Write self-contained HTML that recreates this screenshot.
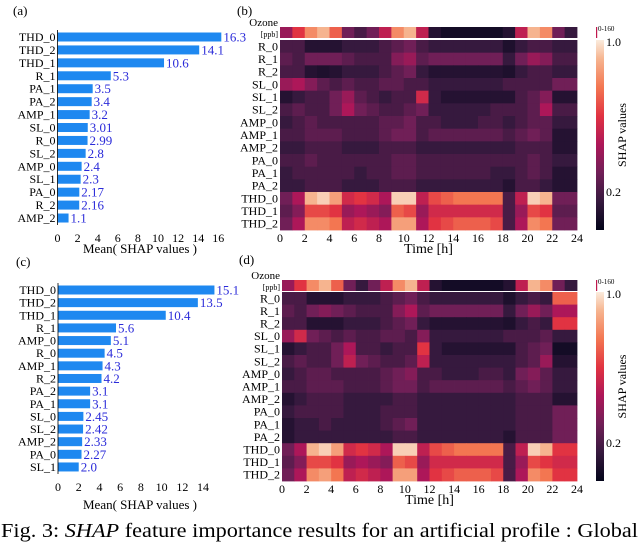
<!DOCTYPE html>
<html><head><meta charset="utf-8"><style>
body{margin:0;background:#fff;}
svg{display:block;font-family:"Liberation Serif",serif;}
</style></head><body>
<svg id="fig" width="640" height="542" viewBox="0 0 640 542" xmlns="http://www.w3.org/2000/svg">
<defs>
<linearGradient id="cbar" x1="0" y1="1" x2="0" y2="0">
<stop offset="0" stop-color="#03051a"/><stop offset="0.15" stop-color="#36193e"/><stop offset="0.3" stop-color="#701f57"/><stop offset="0.45" stop-color="#ad1759"/><stop offset="0.6" stop-color="#e13342"/><stop offset="0.75" stop-color="#f37651"/><stop offset="0.9" stop-color="#f6b48f"/><stop offset="1" stop-color="#faebdd"/>
</linearGradient>
</defs>
<text x="1" y="537" font-size="20" text-anchor="start" textLength="637" lengthAdjust="spacingAndGlyphs">Fig. 3: <tspan font-style="italic">SHAP</tspan> feature importance results for an artificial profile : Global</text>
</svg>
<script>
// ---- bar chart data ----
const barLabelsA = ["THD_0","THD_2","THD_1","R_1","PA_1","PA_2","AMP_1","SL_0","R_0","SL_2","AMP_0","SL_1","PA_0","R_2","AMP_2"];
const barValuesA = [16.3,14.1,10.6,5.3,3.5,3.4,3.2,3.01,2.99,2.8,2.4,2.3,2.17,2.16,1.1];
const barTextA = ["16.3","14.1","10.6","5.3","3.5","3.4","3.2","3.01","2.99","2.8","2.4","2.3","2.17","2.16","1.1"];
const ticksA = [0,2,4,6,8,10,12,14,16];
const barLabelsC = ["THD_0","THD_2","THD_1","R_1","AMP_0","R_0","AMP_1","R_2","PA_2","PA_1","SL_0","SL_2","AMP_2","PA_0","SL_1"];
const barValuesC = [15.1,13.5,10.4,5.6,5.1,4.5,4.3,4.2,3.1,3.1,2.45,2.42,2.33,2.27,2.0];
const barTextC = ["15.1","13.5","10.4","5.6","5.1","4.5","4.3","4.2","3.1","3.1","2.45","2.42","2.33","2.27","2.0"];
const ticksC = [0,2,4,6,8,10,12,14];
// ---- heatmap data ----
const heatRows = ["R_0","R_1","R_2","SL_0","SL_1","SL_2","AMP_0","AMP_1","AMP_2","PA_0","PA_1","PA_2","THD_0","THD_1","THD_2"];
const timeTicks = [0,2,4,6,8,10,12,14,16,18,20,22,24];
const ozoneB = [.4,.6,.8,.9,.7,.3,.2,.3,.5,.8,.9,.5,.1,.05,.05,.05,.05,.05,.1,.5,.9,.8,.3,.15];
const ozoneD = [.4,.6,.8,.9,.7,.3,.15,.3,.5,.8,.9,.5,.1,.05,.05,.05,.05,.05,.1,.5,.9,.8,.3,.15];
const heatB = [
[.2,.2,.1,.1,.1,.15,.15,.15,.2,.25,.3,.2,.15,.15,.15,.15,.15,.15,.08,.15,.2,.2,.15,.15],
[.25,.2,.3,.3,.3,.25,.2,.2,.2,.35,.4,.25,.3,.3,.3,.3,.3,.3,.15,.3,.4,.35,.2,.2],
[.2,.2,.1,.08,.1,.15,.15,.15,.2,.25,.3,.15,.1,.1,.1,.1,.1,.1,.08,.15,.2,.2,.15,.15],
[.4,.45,.35,.25,.2,.25,.2,.2,.25,.25,.2,.2,.15,.15,.15,.15,.15,.15,.2,.2,.2,.2,.3,.3],
[.1,.15,.2,.2,.3,.4,.25,.2,.15,.2,.2,.55,.15,.1,.1,.1,.1,.1,.1,.2,.25,.35,.1,.1],
[.2,.25,.2,.2,.3,.45,.3,.25,.2,.2,.25,.3,.15,.15,.15,.15,.15,.2,.2,.2,.25,.45,.2,.2],
[.15,.2,.25,.2,.2,.2,.2,.2,.25,.25,.3,.2,.2,.15,.15,.15,.2,.2,.15,.2,.25,.25,.15,.15],
[.2,.2,.25,.25,.25,.2,.2,.2,.25,.3,.3,.2,.25,.25,.25,.25,.25,.25,.2,.25,.3,.25,.1,.1],
[.15,.15,.2,.2,.2,.15,.15,.15,.2,.2,.2,.15,.15,.15,.15,.15,.15,.15,.15,.2,.2,.2,.1,.1],
[.2,.2,.25,.2,.2,.2,.2,.2,.2,.25,.25,.2,.2,.2,.2,.2,.2,.2,.2,.2,.25,.2,.15,.15],
[.15,.2,.2,.2,.2,.2,.15,.2,.2,.25,.25,.2,.2,.2,.2,.2,.2,.15,.15,.2,.25,.2,.1,.1],
[.15,.15,.2,.2,.2,.15,.15,.15,.2,.2,.2,.15,.15,.15,.15,.15,.15,.15,.1,.2,.2,.15,.1,.1],
[.3,.45,.9,.95,.85,.55,.6,.55,.45,.95,.95,.5,.65,.7,.75,.75,.75,.75,.2,.5,.95,.9,.3,.3],
[.25,.35,.65,.65,.6,.4,.45,.4,.35,.7,.65,.4,.55,.55,.55,.55,.55,.55,.2,.4,.65,.6,.25,.25],
[.3,.45,.8,.8,.75,.5,.55,.5,.45,.85,.85,.45,.6,.65,.7,.7,.7,.65,.2,.45,.8,.75,.3,.3]];
const heatD = [
[.2,.2,.1,.1,.1,.15,.15,.15,.2,.25,.3,.2,.15,.15,.15,.15,.15,.15,.08,.15,.2,.15,.7,.7],
[.25,.2,.3,.35,.3,.25,.2,.2,.2,.35,.45,.25,.3,.3,.3,.3,.3,.3,.15,.3,.4,.3,.45,.45],
[.2,.2,.1,.1,.1,.15,.15,.15,.2,.25,.3,.15,.1,.1,.1,.1,.1,.1,.08,.15,.2,.15,.6,.6],
[.4,.55,.3,.25,.2,.25,.2,.2,.25,.25,.2,.35,.15,.15,.15,.15,.15,.15,.2,.2,.2,.25,.15,.15],
[.1,.15,.2,.2,.3,.45,.2,.2,.15,.2,.2,.6,.15,.1,.1,.1,.1,.1,.1,.2,.25,.3,.05,.05],
[.2,.25,.2,.2,.3,.5,.3,.25,.2,.2,.25,.5,.15,.15,.15,.15,.15,.15,.15,.2,.25,.4,.1,.1],
[.15,.2,.25,.25,.2,.2,.2,.2,.25,.3,.35,.2,.2,.15,.15,.15,.2,.2,.15,.3,.35,.25,.15,.15],
[.2,.2,.25,.25,.25,.2,.2,.2,.25,.3,.3,.2,.25,.25,.25,.25,.25,.25,.2,.25,.3,.25,.15,.15],
[.1,.15,.2,.2,.2,.15,.15,.15,.15,.2,.2,.15,.15,.15,.15,.15,.15,.15,.15,.2,.2,.2,.1,.1],
[.15,.2,.2,.2,.2,.15,.15,.15,.2,.2,.2,.15,.15,.15,.15,.15,.15,.15,.15,.2,.2,.2,.3,.3],
[.1,.15,.15,.2,.15,.15,.15,.15,.2,.25,.3,.15,.15,.15,.15,.15,.15,.15,.15,.2,.2,.2,.3,.3],
[.1,.15,.15,.15,.15,.15,.15,.15,.15,.2,.2,.15,.15,.15,.15,.15,.15,.15,.1,.2,.2,.2,.3,.3],
[.3,.45,.9,.95,.85,.55,.6,.55,.45,.95,.95,.5,.65,.7,.75,.75,.75,.75,.2,.5,.95,.9,.6,.6],
[.25,.35,.65,.65,.6,.4,.45,.4,.35,.7,.65,.4,.55,.55,.55,.55,.55,.55,.2,.4,.65,.6,.55,.55],
[.3,.45,.8,.85,.75,.5,.55,.5,.45,.85,.85,.45,.6,.65,.7,.7,.7,.65,.2,.45,.8,.75,.6,.6]];

const NS="http://www.w3.org/2000/svg";
const svg=document.getElementById('fig');
function mk(tag,attrs,parent){const e=document.createElementNS(NS,tag);for(const k in attrs)e.setAttribute(k,attrs[k]);(parent||svg).appendChild(e);return e;}
function txt(x,y,s,size,anchor,fill,parent){const t=mk('text',{x:x,y:y,'font-size':size,'text-anchor':anchor||'start',fill:fill||'#000'},parent);t.textContent=s;return t;}

const stops=[[0,[3,5,26]],[.15,[54,25,62]],[.3,[112,31,87]],[.45,[173,23,89]],[.6,[225,51,66]],[.75,[243,118,81]],[.9,[246,180,143]],[1,[250,235,221]]];
function cmap(v){v=Math.max(0,Math.min(1,v));for(let i=1;i<stops.length;i++){if(v<=stops[i][0]){const a=stops[i-1],b=stops[i],t=(v-a[0])/(b[0]-a[0]);const c=a[1].map((x,j)=>Math.round(x+(b[1][j]-x)*t));return `rgb(${c.join(',')})`;}}return 'rgb(250,235,221)';}

function barChart(p){
  const g=mk('g',{});
  
  
  const xs=v=>p.x0+v*p.ppu;
  const ys=i=>p.y0+i*p.step;
  p.labels.forEach((lab,i)=>{
    const r=mk('rect',{x:xs(0),y:ys(i)-4.5,width:xs(p.values[i])-xs(0),height:9,fill:'#1e88f0'},g);
    
    
    const l=txt(xs(0)-2,ys(i)+4,lab,12,'end','#000',g);
    
    
    const v=txt(xs(p.values[i])+2,ys(i)+4.5,p.texts[i],13,'start','#2b2bd9',g);
    
    
  });
  mk('line',{x1:xs(0),x2:xs(0),y1:ys(0)-7,y2:ys(p.labels.length-1)+7,stroke:'#000','stroke-width':0.8},g);
  p.ticks.forEach(t=>{const e=txt(xs(t),p.tickY,String(t),12,'middle','#000',g);
    
    });
  const ti=txt(p.titleX,p.titleY,'Mean( SHAP values )',13,'middle','#000',g);
  
  
  const pl=txt(p.panelX,p.panelY,p.panel,13,'start','#000',g);
  
  
}
barChart({name:'bar-chart-a',labels:barLabelsA,values:barValuesA,texts:barTextA,ticks:ticksA,x0:57.5,ppu:10.05,y0:37,step:12.93,tickY:242,titleX:140,titleY:253,panel:'(a)',panelX:13,panelY:15});
barChart({name:'bar-chart-c',labels:barLabelsC,values:barValuesC,texts:barTextC,ticks:ticksC,x0:58,ppu:10.36,y0:290,step:12.64,tickY:491,titleX:140,titleY:509,panel:'(c)',panelX:16,panelY:266});

function heatmap(p){
  const g=mk('g',{});
  
  
  const W=p.x1-p.x0, cw=W/24;
  const xs=h=>p.x0+h*cw;
  const rh=(p.y1-p.y0)/heatRows.length;
  const ys=i=>p.y0+i*rh;
  p.ozone.forEach((v,h)=>{const r=mk('rect',{x:xs(h),y:p.oy0,width:cw+0.4,height:p.oy1-p.oy0,fill:cmap(v)},g);
    
    });
  p.data.forEach((row,i)=>row.forEach((v,h)=>{const r=mk('rect',{x:xs(h),y:ys(i),width:cw+0.4,height:rh+0.4,fill:cmap(v)},g);
    
    }));
  heatRows.forEach((lab,i)=>{const t=txt(p.x0-2,ys(i)+rh/2+4,lab,12,'end','#000',g);
    
    });
  const oz=txt(p.x0-2,p.oy0-1,'Ozone',11,'end','#000',g);
  
  
  const oz2=txt(p.x0-2,p.oy1-1,'[ppb]',8,'end','#000',g);
  
  
  timeTicks.forEach(t=>{const e=txt(p.x0+t*cw,p.y1+12,String(t),12,'middle','#000',g);
    
    });
  const ti=txt((p.x0+p.x1)/2,p.y1+23,'Time [h]',14,'middle','#000',g);
  
  
  const pl=txt(p.x0-43,p.panelY,p.panel,13,'start','#000',g);
  
  
  const cb=mk('rect',{x:596,y:p.y0,width:8,height:p.y1-p.y0,fill:'url(#cbar)'},g);
  
  
  mk('rect',{x:596,y:p.oy0,width:1.2,height:p.oy1-p.oy0,fill:'#c0184d'},g);
  const s=txt(598,p.oy0+4,'0-160',7,'start','#000',g);
  
  
  const a=txt(606,p.y0+6,'1.0',12,'start','#000',g);
  
  
  const b=txt(606,p.y0+(p.y1-p.y0)*0.8+4,'0.2',12,'start','#000',g);
  
  
  const cy=(p.y0+p.y1)/2;
  const c=mk('text',{x:0,y:0,'font-size':12,'text-anchor':'middle',transform:`translate(626,${cy}) rotate(-90)`},g);
  c.textContent='SHAP values';
  
  
}
heatmap({name:'heatmap-b',data:heatB,ozone:ozoneB,x0:280,x1:577,oy0:27,oy1:38,y0:40,y1:230,panel:'(b)',panelY:15});
heatmap({name:'heatmap-d',data:heatD,ozone:ozoneD,x0:282,x1:577,oy0:280,oy1:291,y0:292,y1:481,panel:'(d)',panelY:264});
</script>
</body></html>
